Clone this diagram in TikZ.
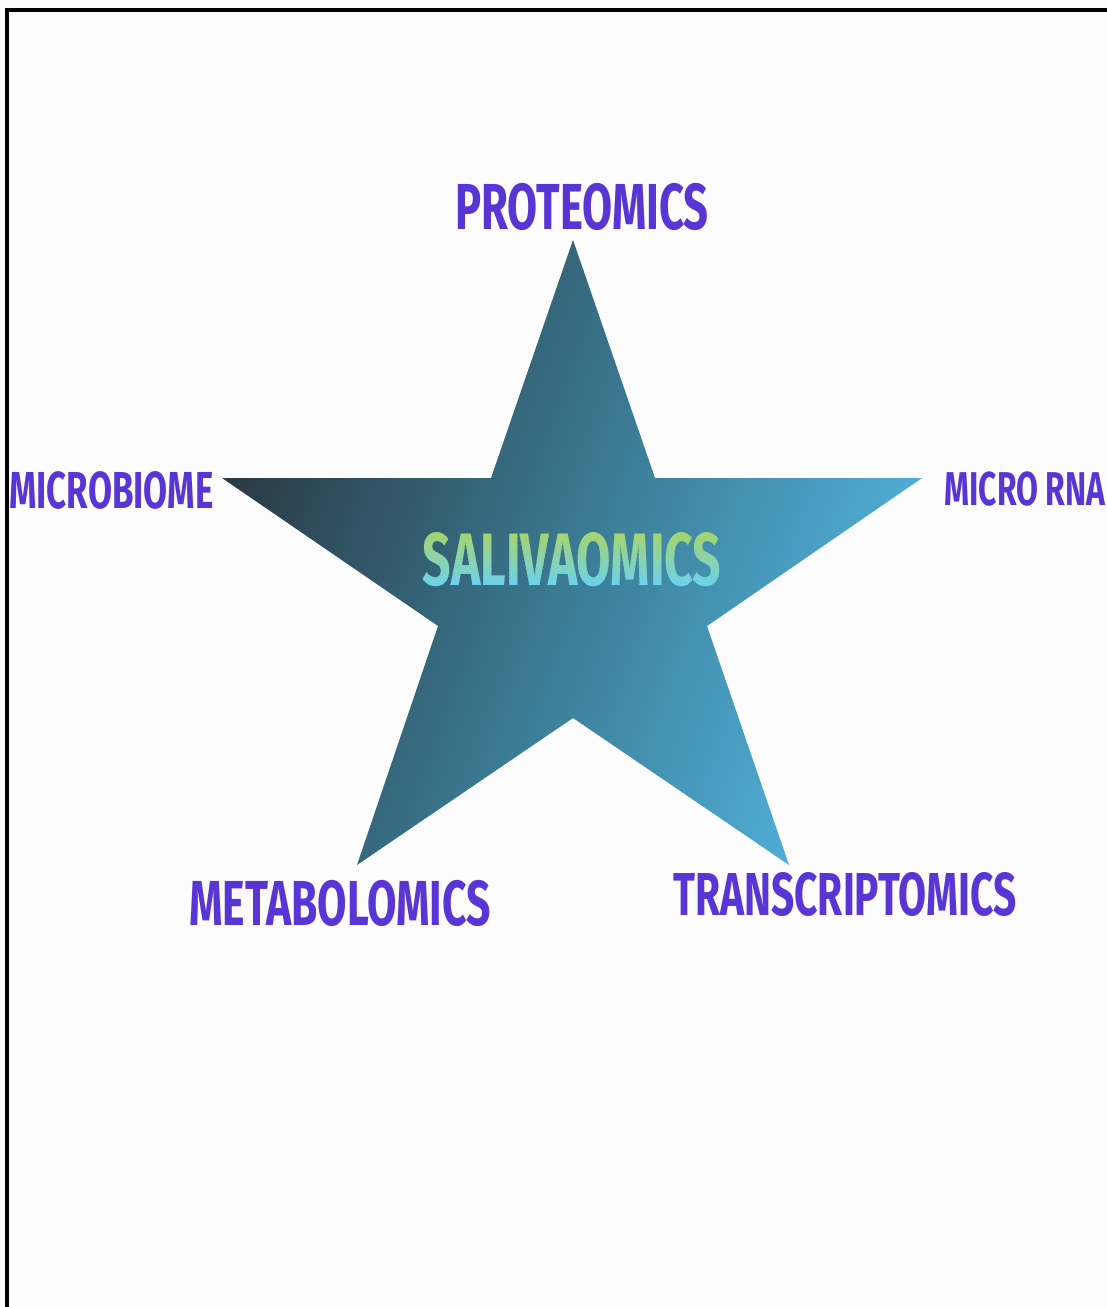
\documentclass[tikz,border=0pt]{standalone}
\usepackage{fontspec}
\newfontfamily\dinfont[FakeStretch=0.67]{Fira Sans}

\definecolor{omicsblue}{HTML}{5A35D6}
\definecolor{stardark}{HTML}{2B3B46}
\definecolor{starmid}{HTML}{3A7A92}
\definecolor{starlight}{HTML}{52B2DC}
\definecolor{salivatop}{HTML}{A6D46E}
\definecolor{salivabottom}{HTML}{6CD2EE}

\tikzset{
  omics/.style={inner sep=0pt, text=omicsblue, font=\dinfont\bfseries\fontsize{#1}{#1}\selectfont},
}

\begin{document}
\begin{tikzpicture}[x=0.02cm, y=-0.02cm]
\useasboundingbox (0,0) rectangle (1106,1307);
\fill[white!99!black] (0,0) rectangle (1106,1307);

% frame
\draw[line width=2pt, line cap=rect] (7,1307) -- (7,10) -- (1106,10);

% star
\shade[left color=stardark, right color=starlight, middle color=starmid, shading angle=70]
  (573,240) -- (655,478) -- (922,478) -- (707,626) -- (789,865)
  -- (573,718) -- (357,865) -- (438,626) -- (222,478) -- (491,478) -- cycle;

% centre label, coloured in thin horizontal bands from green to blue
\begin{scope}
  \clip (400,480) rectangle (750,532);
  \node[omics=42.3, text=salivatop] (saliva) at (572,560) {SALIVAOMICS};
\end{scope}
\foreach \i in {0,...,13}{
  \pgfmathsetmacro{\mix}{100-\i*100/13}
  \begin{scope}
    \clip (400,{532+\i*4}) rectangle (750,{536+\i*4+0.5});
    \node[omics=42.3, text=salivatop!\mix!salivabottom] at (572,560) {SALIVAOMICS};
  \end{scope}
}

\node[omics=37] (proteomics) at (582,207) {PROTEOMICS};
\node[omics=29.6, anchor=west] (microbiome) at (9,490) {MICROBIOME};
\node[omics=27] (microrna) at (1025,489) {MICRO RNA};
\node[omics=36.2] (metabolomics) at (340,903) {METABOLOMICS};
\node[omics=34.5] (transcriptomics) at (845,894) {TRANSCRIPTOMICS};

\end{tikzpicture}
\end{document}
